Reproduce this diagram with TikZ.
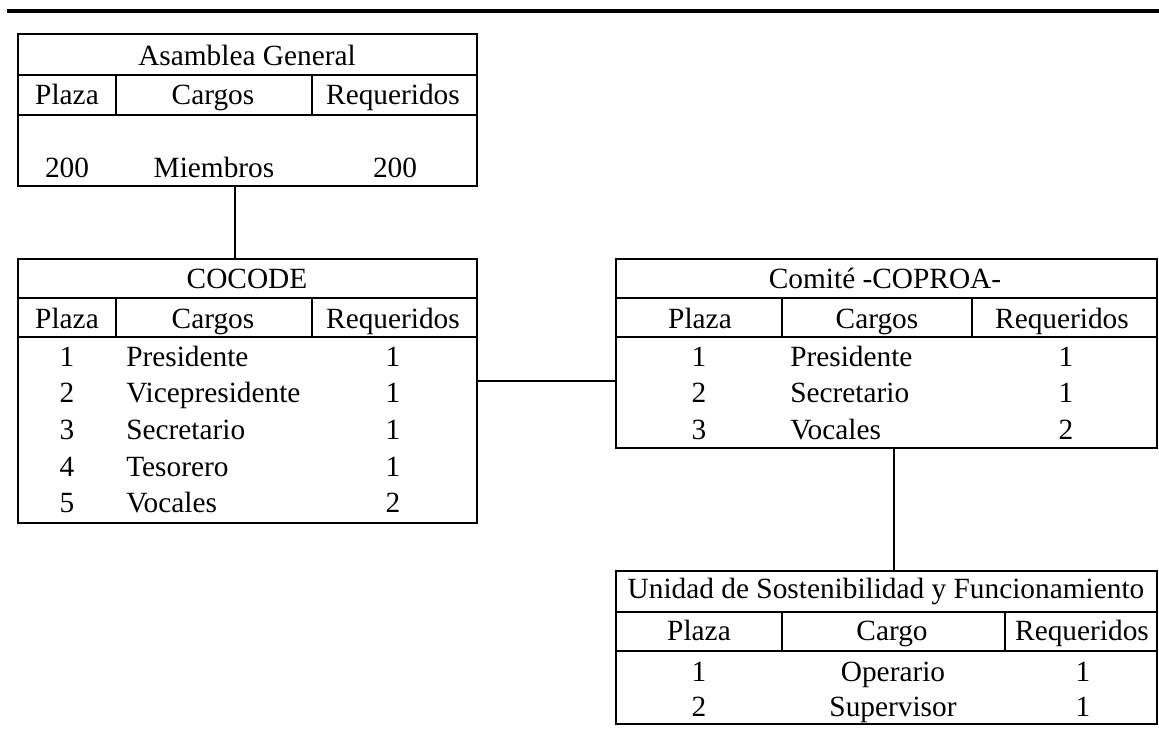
\documentclass[tikz,border=0pt]{standalone}
\usepackage{fontspec}
\setmainfont{Liberation Serif}
\begin{document}
\begin{tikzpicture}[x=0.75pt,y=-0.75pt,
  tbl/.style={draw, line width=1.9pt, rectangle, inner sep=0pt, outer sep=0pt, anchor=north west},
  gridline/.style={line width=1.5pt},
  link/.style={line width=1.2pt},
  topline/.style={line width=2.4pt},
  txt/.style={font=\fontsize{22}{24}\selectfont, inner sep=0pt, anchor=base},
  txtl/.style={txt, anchor=base west}]
\useasboundingbox (0,0) rectangle (1159,736);
\clip (0,0) rectangle (1159,736);
\draw[topline] (7,11) -- (1170,11);

% Table 1: Asamblea General
\node[tbl, minimum width=344.25pt, minimum height=114pt] (t1) at (18,34) {};
\draw[gridline] (18,75) -- (477,75);
\draw[gridline] (18,115) -- (477,115);
\draw[gridline] (116,75) -- (116,115);
\draw[gridline] (312,75) -- (312,115);
\node[txt] (a0) at (247,65) {Asamblea General};
\node[txt] (a1) at (67,104) {Plaza};
\node[txt] (a2) at (213,104) {Cargos};
\node[txt] (a3) at (393,104) {Requeridos};
\node[txt] (a4) at (67,177) {200};
\node[txt] (a5) at (214,177) {Miembros};
\node[txt] (a6) at (395,177) {200};

% Table 2: COCODE
\node[tbl, minimum width=344.25pt, minimum height=198pt] (t2) at (18,259) {};
\draw[gridline] (18,298) -- (477,298);
\draw[gridline] (18,337) -- (477,337);
\draw[gridline] (116,298) -- (116,337);
\draw[gridline] (312,298) -- (312,337);
\node[txt] (b0) at (247,288) {COCODE};
\node[txt] (b1) at (67,328) {Plaza};
\node[txt] (b2) at (213,328) {Cargos};
\node[txt] (b3) at (393,328) {Requeridos};
\node[txt] (b11) at (67,366) {1};
\node[txtl] (b12) at (126,366) {Presidente};
\node[txt] (b13) at (393,366) {1};
\node[txt] (b21) at (67,402.5) {2};
\node[txtl] (b22) at (126,402.5) {Vicepresidente};
\node[txt] (b23) at (393,402.5) {1};
\node[txt] (b31) at (67,439) {3};
\node[txtl] (b32) at (126,439) {Secretario};
\node[txt] (b33) at (393,439) {1};
\node[txt] (b41) at (67,476) {4};
\node[txtl] (b42) at (126,476) {Tesorero};
\node[txt] (b43) at (393,476) {1};
\node[txt] (b51) at (67,512) {5};
\node[txtl] (b52) at (126,512) {Vocales};
\node[txt] (b53) at (393,512) {2};

% Table 3: Comite -COPROA-
\node[tbl, minimum width=405.75pt, minimum height=141.75pt] (t3) at (616,259) {};
\draw[gridline] (616,298) -- (1157,298);
\draw[gridline] (616,337) -- (1157,337);
\draw[gridline] (782,298) -- (782,337);
\draw[gridline] (972,298) -- (972,337);
\node[txt] (c0) at (885,288) {Comité -COPROA-};
\node[txt] (c1) at (700,328) {Plaza};
\node[txt] (c2) at (877,328) {Cargos};
\node[txt] (c3) at (1062,328) {Requeridos};
\node[txt] (c11) at (699,366) {1};
\node[txtl] (c12) at (790,366) {Presidente};
\node[txt] (c13) at (1066,366) {1};
\node[txt] (c21) at (699,402.5) {2};
\node[txtl] (c22) at (790,402.5) {Secretario};
\node[txt] (c23) at (1066,402.5) {1};
\node[txt] (c31) at (699,439) {3};
\node[txtl] (c32) at (790,439) {Vocales};
\node[txt] (c33) at (1066,439) {2};

% Table 4: Unidad de Sostenibilidad y Funcionamiento
\node[tbl, minimum width=405.75pt, minimum height=114.75pt] (t4) at (616,571) {};
\draw[gridline] (616,612) -- (1157,612);
\draw[gridline] (616,651) -- (1157,651);
\draw[gridline] (782,612) -- (782,651);
\draw[gridline] (1005,612) -- (1005,651);
\node[txt] (d0) at (886,598) {Unidad de Sostenibilidad y Funcionamiento};
\node[txt] (d1) at (699,640) {Plaza};
\node[txt] (d2) at (892,640) {Cargo};
\node[txt] (d3) at (1082,640) {Requeridos};
\node[txt] (d11) at (699,681) {1};
\node[txt] (d12) at (893,681) {Operario};
\node[txt] (d13) at (1083,681) {1};
\node[txt] (d21) at (699,716) {2};
\node[txt] (d22) at (893,716) {Supervisor};
\node[txt] (d23) at (1083,716) {1};

% connectors
\coordinate (k1) at (235,0);
\coordinate (k2) at (0,381);
\coordinate (k3) at (894,0);
\draw[link] (t1.south -| k1) -- (t2.north -| k1);
\draw[link] (t2.east |- k2) -- (t3.west |- k2);
\draw[link] (t3.south -| k3) -- (t4.north -| k3);
\end{tikzpicture}
\end{document}
